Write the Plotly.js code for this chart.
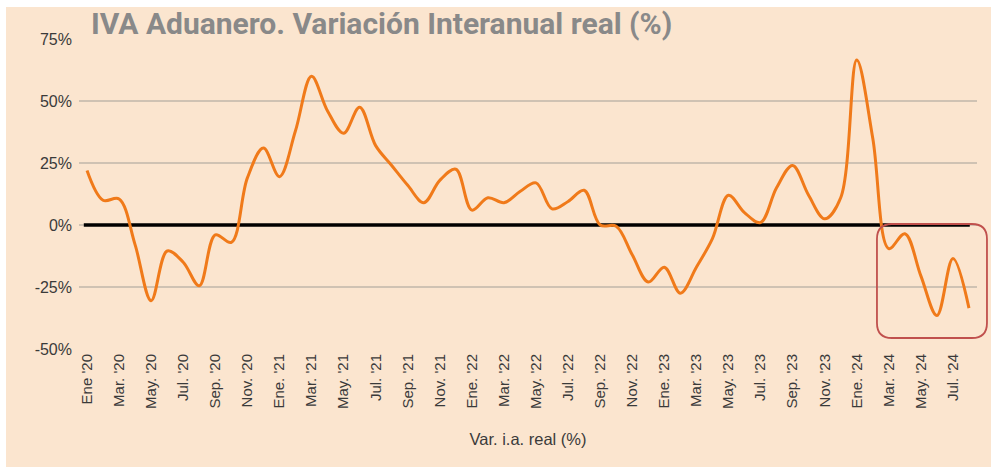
<!DOCTYPE html>
<html>
<head>
<meta charset="utf-8">
<script src="https://cdn.plot.ly/plotly-3.0.1.min.js"></script>
<style>
  html, body { margin: 0; padding: 0; background: #ffffff; }
  #chart { position: absolute; left: 6px; top: 7px; width: 985px; height: 460px; }
</style>
</head>
<body>
<div id="chart"></div>
<script>
// Monthly categories Ene '20 .. Ago '24
const categories = [
  "Ene '20","Feb. '20","Mar. '20","Abr. '20","May. '20","Jun. '20","Jul. '20","Ago. '20","Sep. '20","Oct. '20","Nov. '20","Dic. '20",
  "Ene. '21","Feb. '21","Mar. '21","Abr. '21","May. '21","Jun. '21","Jul. '21","Ago. '21","Sep. '21","Oct. '21","Nov. '21","Dic. '21",
  "Ene. '22","Feb. '22","Mar. '22","Abr. '22","May. '22","Jun. '22","Jul. '22","Ago. '22","Sep. '22","Oct. '22","Nov. '22","Dic. '22",
  "Ene. '23","Feb. '23","Mar. '23","Abr. '23","May. '23","Jun. '23","Jul. '23","Ago. '23","Sep. '23","Oct. '23","Nov. '23","Dic. '23",
  "Ene. '24","Feb. '24","Mar. '24","Abr. '24","May. '24","Jun. '24","Jul. '24","Ago. '24"
];
// Var. i.a. real (%)
const values = [
  22, 10, 10.5, -8, -30.5, -10.5, -15, -24.5, -4, -7, 19, 31,
  19.5, 38, 60, 46, 37, 47.5, 32, 24, 16, 9, 18, 22.5,
  6, 11, 9, 13.5, 17, 6.5, 9.5, 14, 0, -0.5, -12, -23,
  -17, -27.5, -17, -5.5, 12, 5, 1, 15, 24, 12, 2.5, 11,
  66.5, 35, -9.5, -3.5, -20.5, -36.5, -13.5, -33.5
];
// Tick labels shown every second month
const tickLabels = categories.filter((c, i) => i % 2 === 0);
const yTickVals = [-50, -25, 0, 25, 50, 75];
const yTickText = ["-50%", "-25%", "0%", "25%", "50%", "75%"];

const bg = "#fbe5cf";
const rx = 15 / 898, ry = 15 / 312;
const bx0 = 0.8886, bx1 = 1.0111, byT = 0.4038, byB = 0.0385;
const boxPath = `M ${bx0+rx},${byT} L ${bx1-rx},${byT} Q ${bx1},${byT} ${bx1},${byT-ry} ` +
  `L ${bx1},${byB+ry} Q ${bx1},${byB} ${bx1-rx},${byB} L ${bx0+rx},${byB} ` +
  `Q ${bx0},${byB} ${bx0},${byB+ry} L ${bx0},${byT-ry} Q ${bx0},${byT} ${bx0+rx},${byT} Z`;

const trace = {
  type: "scatter",
  mode: "lines",
  x: categories,
  y: values,
  line: { color: "#f07a1a", width: 3, shape: "spline", smoothing: 1 },
  hoverinfo: "x+y",
  showlegend: false
};

const layout = {
  width: 985,
  height: 460,
  paper_bgcolor: bg,
  plot_bgcolor: bg,
  margin: { l: 73, r: 14, t: 31, b: 117 },
  title: {
    text: "<b>IVA Aduanero. Variación Interanual real (%)</b>",
    font: { family: "Roboto, sans-serif", size: 30, color: "#898989" },
    xref: "container", yref: "container",
    x: 85 / 985, xanchor: "left",
    y: 1 - 16 / 460, yanchor: "middle"
  },
  xaxis: {
    type: "category",
    categoryarray: categories,
    range: [-0.5, categories.length - 0.5],
    tickvals: tickLabels,
    ticktext: tickLabels,
    tickangle: -90,
    tickfont: { family: "Liberation Sans, Arial, sans-serif", size: 15, color: "#3a3a3a" },
    showgrid: false,
    zeroline: false,
    showline: false,
    ticks: "",
    title: {
      text: "Var. i.a. real (%)",
      font: { family: "Liberation Sans, Arial, sans-serif", size: 16.5, color: "#3a3a3a" },
      standoff: 25
    },
    automargin: false,
    fixedrange: true
  },
  yaxis: {
    range: [-50.4, 75.4],
    tickvals: yTickVals,
    ticktext: yTickText,
    tickfont: { family: "Liberation Sans, Arial, sans-serif", size: 16, color: "#3a3a3a" },
    ticklabelstandoff: 6,
    showgrid: true,
    gridcolor: "#cfc2b3",
    gridwidth: 1.3,
    zeroline: false,
    showline: false,
    ticks: "",
    automargin: false,
    fixedrange: true
  },
  shapes: [
    {
      type: "line", xref: "x", yref: "y",
      x0: -0.2, x1: 55.05, y0: 0, y1: 0,
      line: { color: "#000000", width: 3.5 },
      layer: "between"
    },
    {
      type: "path", xref: "paper", yref: "paper",
      path: boxPath,
      line: { color: "#c0504d", width: 1.8 },
      fillcolor: "rgba(0,0,0,0)"
    }
  ]
};

Plotly.newPlot("chart", [trace], layout, { displayModeBar: false, staticPlot: true });
</script>
</body>
</html>
